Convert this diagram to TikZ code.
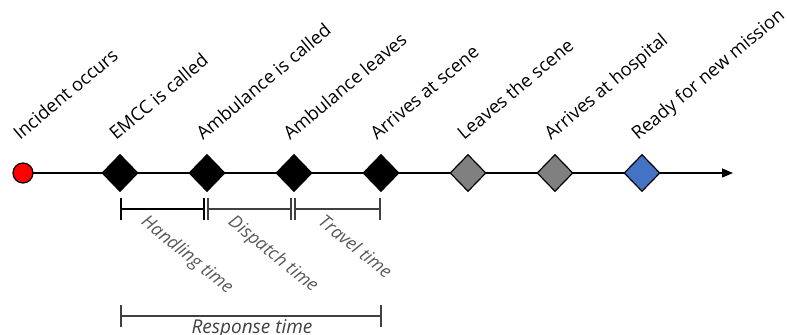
\documentclass[tikz,border=0pt]{standalone}
\usepackage{fontspec}
\setmainfont{Open Sans}
\usetikzlibrary{shapes.geometric,arrows.meta}
\definecolor{eventblue}{HTML}{4472C4}
\definecolor{eventgray}{HTML}{808080}
\definecolor{spangray}{HTML}{404040}
\definecolor{labelgray}{HTML}{595959}
\tikzset{
  event/.style={diamond,draw=black,line width=1.2pt,minimum width=36pt,minimum height=37pt,inner sep=0pt},
  toplabel/.style={anchor=base west,rotate=40,inner sep=0pt,font=\fontsize{18.3}{20}\selectfont},
  spanlabel/.style={anchor=north west,rotate=-39,inner sep=0pt,text=labelgray,font=\fontsize{18}{20}\selectfont\itshape},
  span/.style={line width=1.2pt},
}
\begin{document}
\begin{tikzpicture}[x=1pt,y=1pt]
\useasboundingbox (0,0) rectangle (788,335);

% time axis
\coordinate (axisstart) at (23,162);
\coordinate (axisend) at (733,162);
\draw[line width=1.5pt,-{Triangle[length=11pt,width=9pt]}] (axisstart) -- (axisend);

% events
\node[circle,draw=black,line width=1.2pt,fill=red,minimum size=20pt,inner sep=0pt] (e0) at (23,162) {};
\node[event,fill=black] (e1) at (120,162) {};
\node[event,fill=black] (e2) at (207,162) {};
\node[event,fill=black] (e3) at (294,162) {};
\node[event,fill=black] (e4) at (381,162) {};
\node[event,fill=eventgray] (e5) at (468,162) {};
\node[event,fill=eventgray] (e6) at (555,162) {};
\node[event,fill=eventblue] (e7) at (642,162) {};

% event labels
\node[toplabel] (l0) at (20,194) {Incident occurs};
\node[toplabel] (l1) at (116,194) {EMCC is called};
\node[toplabel] (l2) at (203,194) {Ambulance is called};
\node[toplabel] (l3) at (290,194) {Ambulance leaves};
\node[toplabel] (l4) at (377,194) {Arrives at scene};
\node[toplabel] (l5) at (464,194) {Leaves the scene};
\node[toplabel] (l6) at (551,194) {Arrives at hospital};
\node[toplabel] (l7) at (638,194) {Ready for new mission};

% interval brackets
\coordinate (h1) at (121,126);
\coordinate (h2) at (204,126);
\coordinate (d1) at (208,126);
\coordinate (d2) at (291,126);
\coordinate (t1) at (295,126);
\coordinate (t2) at (380,126);
\draw[span,black] ([yshift=11pt]h1) -- ([yshift=-11pt]h1) (h1) -- (h2) ([yshift=11pt]h2) -- ([yshift=-11pt]h2);
\draw[span,spangray] ([yshift=11pt]d1) -- ([yshift=-11pt]d1) (d1) -- (d2) ([yshift=11pt]d2) -- ([yshift=-11pt]d2);
\draw[span,spangray] ([yshift=11pt]t1) -- ([yshift=-11pt]t1) (t1) -- (t2) ([yshift=11pt]t2) -- ([yshift=-11pt]t2);

\node[spanlabel] (sh) at (149,122) {Handling time};
\node[spanlabel] (sd) at (236,122) {Dispatch time};
\node[spanlabel] (st) at (326,122) {Travel time};

% response time bracket
\coordinate (r1) at (121,19);
\coordinate (r2) at (381,19);
\draw[span,spangray] ([yshift=11pt]r1) -- ([yshift=-11pt]r1) (r1) -- (r2) ([yshift=11pt]r2) -- ([yshift=-11pt]r2);
\node[anchor=base,inner sep=0pt,text=spangray,font=\fontsize{19}{20}\selectfont\itshape] (resp) at (252,1.5) {Response time};
\end{tikzpicture}
\end{document}
